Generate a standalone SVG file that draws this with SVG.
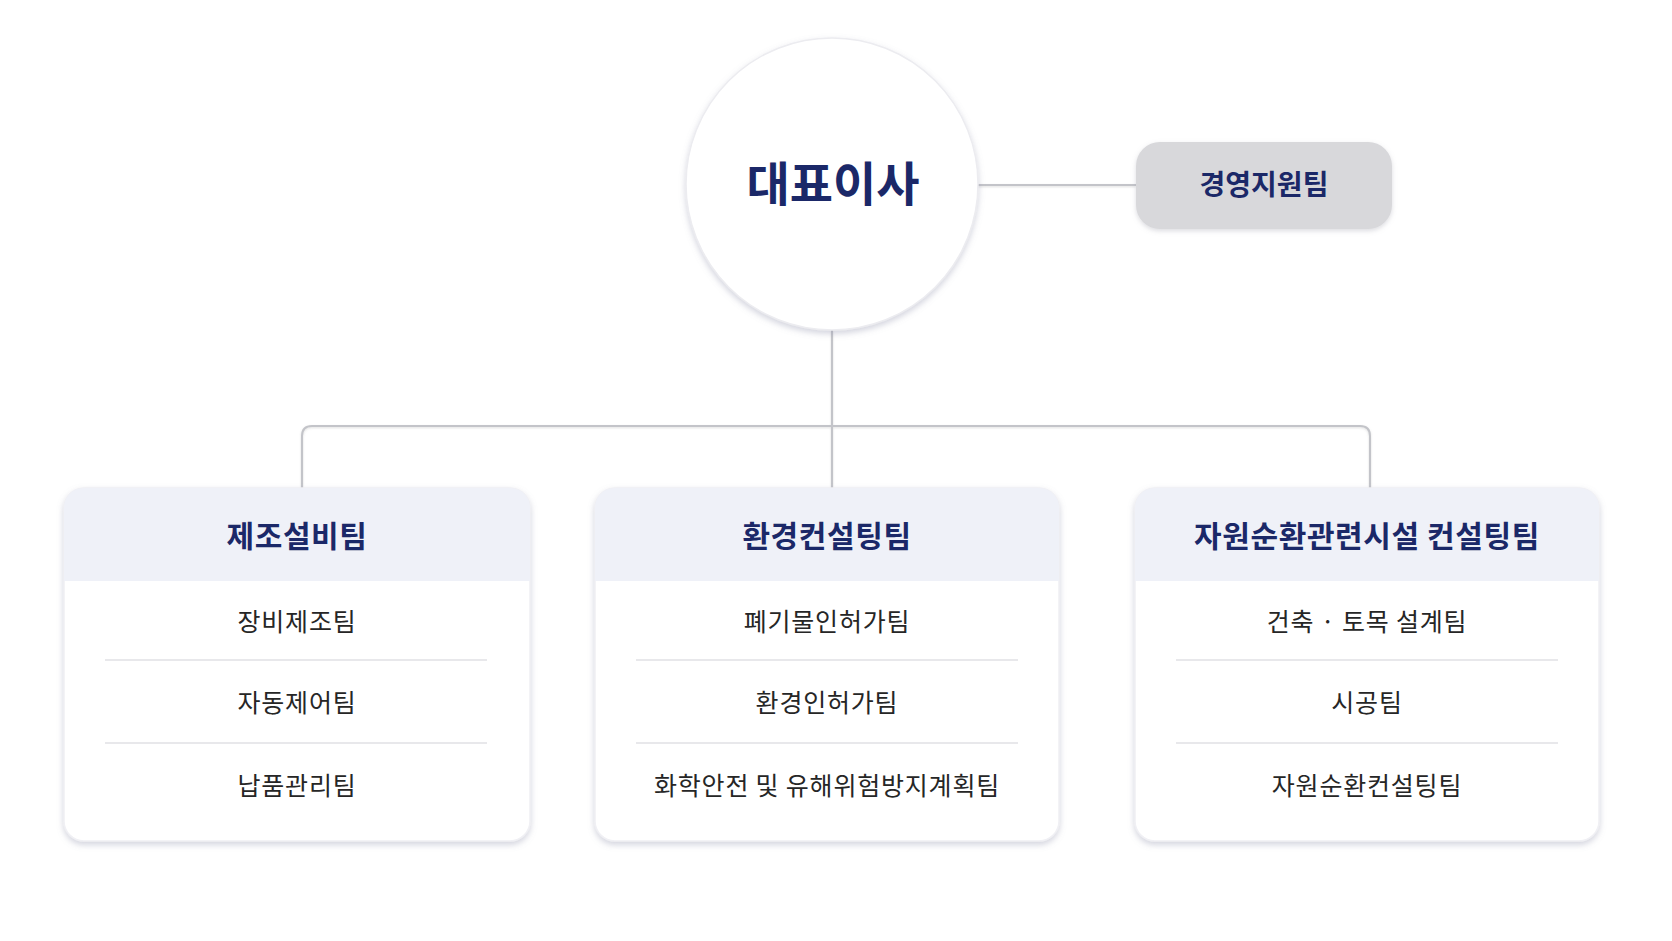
<svg xmlns="http://www.w3.org/2000/svg" width="1672" height="941" viewBox="0 0 1672 941">
  <defs>
    <filter id="shadow" x="-10%" y="-10%" width="120%" height="125%">
      <feDropShadow dx="0" dy="3" stdDeviation="3" flood-color="#8a8ea8" flood-opacity="0.38"/>
    </filter>
    <filter id="softshadow" x="-10%" y="-10%" width="120%" height="125%">
      <feDropShadow dx="0" dy="2" stdDeviation="2.5" flood-color="#9a9aa8" flood-opacity="0.35"/>
    </filter>
    <filter id="lineshadow" x="-5%" y="-50%" width="110%" height="200%">
      <feDropShadow dx="0" dy="1" stdDeviation="1" flood-color="#999" flood-opacity="0.3"/>
    </filter>
    <clipPath id="c1"><rect x="64" y="488" width="466" height="353" rx="20"/></clipPath>
    <clipPath id="c2"><rect x="595" y="488" width="464" height="353" rx="20"/></clipPath>
    <clipPath id="c3"><rect x="1135" y="488" width="464" height="353" rx="20"/></clipPath>
  </defs>
  <style>
    .conn { fill: none; stroke: #c3c4c9; stroke-width: 2; }
    .title { font-family: "Noto Sans CJK KR", "Noto Sans", sans-serif; font-weight: 700; fill: #1b2868; text-anchor: middle; }
    .head-t { font-size: 30px; letter-spacing: 0.6px; }
    .item { font-family: "Noto Sans CJK KR", "Noto Sans", sans-serif; font-weight: 400; fill: #262626; font-size: 25px; letter-spacing: 0.8px; text-anchor: middle; }
    .card { fill: #ffffff; stroke: #f0f0f4; stroke-width: 1.5; }
    .head { fill: #eff1f8; }
    .div { stroke: #e0e0e4; stroke-width: 1.5; }
  </style>
  <rect width="1672" height="941" fill="#ffffff"/>

  <g id="connectors" filter="url(#lineshadow)">
    <line class="conn" x1="977" y1="185" x2="1136" y2="185"/>
    <line class="conn" x1="832" y1="330" x2="832" y2="489"/>
    <path class="conn" d="M302 489 V436 Q302 426 312 426 H1360 Q1370 426 1370 436 V489"/>
  </g>

  <g id="ceo">
    <circle cx="832" cy="184" r="146" fill="#ffffff" stroke="#ececf0" stroke-width="1.5" filter="url(#shadow)"/>
    <text class="title" x="833" y="201" font-size="47">대표이사</text>
  </g>

  <g id="support">
    <rect x="1136" y="142" width="256" height="87" rx="24" fill="#d8d8db" filter="url(#softshadow)"/>
    <text class="title" x="1264" y="195" font-size="28">경영지원팀</text>
  </g>

  <g id="card-manufacturing">
    <rect class="card" x="64" y="488" width="466" height="353" rx="20" filter="url(#shadow)"/>
    <rect class="head" x="64" y="488" width="466" height="93" clip-path="url(#c1)"/>
    <text class="title head-t" x="297" y="547">제조설비팀</text>
    <text class="item" x="297" y="631">장비제조팀</text>
    <line class="div" x1="105" y1="660" x2="487" y2="660"/>
    <text class="item" x="297" y="712">자동제어팀</text>
    <line class="div" x1="105" y1="743" x2="487" y2="743"/>
    <text class="item" x="297" y="795">납품관리팀</text>
  </g>

  <g id="card-environment">
    <rect class="card" x="595" y="488" width="464" height="353" rx="20" filter="url(#shadow)"/>
    <rect class="head" x="595" y="488" width="464" height="93" clip-path="url(#c2)"/>
    <text class="title head-t" x="827" y="547">환경컨설팅팀</text>
    <text class="item" x="827" y="631">폐기물인허가팀</text>
    <line class="div" x1="636" y1="660" x2="1018" y2="660"/>
    <text class="item" x="827" y="712">환경인허가팀</text>
    <line class="div" x1="636" y1="743" x2="1018" y2="743"/>
    <text class="item" x="827" y="795">화학안전 및 유해위험방지계획팀</text>
  </g>

  <g id="card-recycling">
    <rect class="card" x="1135" y="488" width="464" height="353" rx="20" filter="url(#shadow)"/>
    <rect class="head" x="1135" y="488" width="464" height="93" clip-path="url(#c3)"/>
    <text class="title head-t" x="1367" y="547">자원순환관련시설 컨설팅팀</text>
    <text class="item" x="1367" y="631">건축 · 토목 설계팀</text>
    <line class="div" x1="1176" y1="660" x2="1558" y2="660"/>
    <text class="item" x="1367" y="712">시공팀</text>
    <line class="div" x1="1176" y1="743" x2="1558" y2="743"/>
    <text class="item" x="1367" y="795">자원순환컨설팅팀</text>
  </g>
</svg>
